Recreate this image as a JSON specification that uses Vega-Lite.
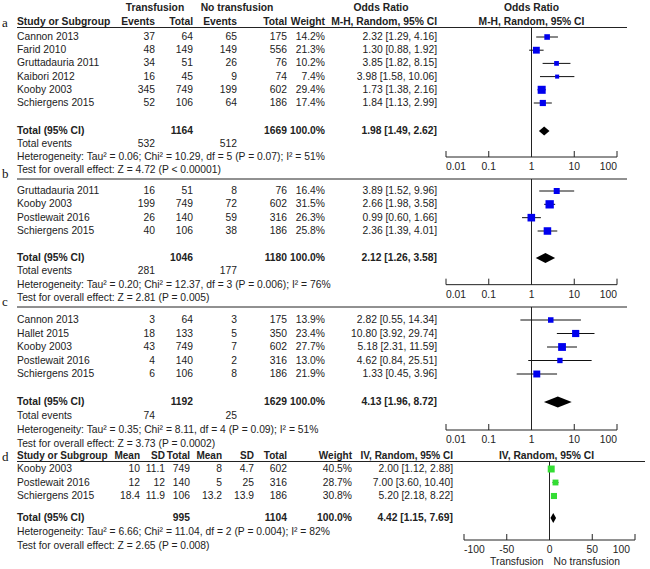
{
"$schema":"https://vega.github.io/schema/vega-lite/v6.json",
"width":650,"height":569,"padding":0,"autosize":{"type":"none"},
"background":"white",
"config":{"view":{"stroke":null},"axis":{"disable":true},"legend":{"disable":true},
 "text":{"font":"Liberation Sans","fontSize":10.3,"color":"#222","baseline":"middle"},
 "rule":{"color":"#222","strokeWidth":1}},
"datasets":{
 "frames":[{"panel":"a","label":"a","line":1.5,"line2":11},{"panel":"b","label":"b","line":12.5,"line2":20},{"panel":"c","label":"c","line":21.5,"line2":30},{"panel":"d","label":"d","line":32.5,"line2":38.5}],
 "headersABC":[{"line":0,"col":1,"text":"Transfusion"},{"line":0,"col":3,"text":"No transfusion"},{"line":0,"col":5.5,"text":"Odds Ratio"},{"line":1,"col":0,"text":"Study or Subgroup"},{"line":1,"col":1,"text":"Events"},{"line":1,"col":2,"text":"Total"},{"line":1,"col":3,"text":"Events"},{"line":1,"col":4,"text":"Total"},{"line":1,"col":5,"text":"Weight"},{"line":1,"col":6,"text":"M-H, Random, 95% CI"}],
 "studiesOR":[
  {"panel":"a","line":2,"study":"Cannon 2013","e1":37,"n1":64,"e2":65,"n2":175,"weight":0.142,"ci":"2.32 [1.29, 4.16]","or":2.32,"lo":1.29,"hi":4.16},
  {"panel":"a","line":3,"study":"Farid 2010","e1":48,"n1":149,"e2":149,"n2":556,"weight":0.213,"ci":"1.30 [0.88, 1.92]","or":1.30,"lo":0.88,"hi":1.92},
  {"panel":"a","line":4,"study":"Gruttadauria 2011","e1":34,"n1":51,"e2":26,"n2":76,"weight":0.102,"ci":"3.85 [1.82, 8.15]","or":3.85,"lo":1.82,"hi":8.15},
  {"panel":"a","line":5,"study":"Kaibori 2012","e1":16,"n1":45,"e2":9,"n2":74,"weight":0.074,"ci":"3.98 [1.58, 10.06]","or":3.98,"lo":1.58,"hi":10.06},
  {"panel":"a","line":6,"study":"Kooby 2003","e1":345,"n1":749,"e2":199,"n2":602,"weight":0.294,"ci":"1.73 [1.38, 2.16]","or":1.73,"lo":1.38,"hi":2.16},
  {"panel":"a","line":7,"study":"Schiergens 2015","e1":52,"n1":106,"e2":64,"n2":186,"weight":0.174,"ci":"1.84 [1.13, 2.99]","or":1.84,"lo":1.13,"hi":2.99},
  {"panel":"b","line":13,"study":"Gruttadauria 2011","e1":16,"n1":51,"e2":8,"n2":76,"weight":0.164,"ci":"3.89 [1.52, 9.96]","or":3.89,"lo":1.52,"hi":9.96},
  {"panel":"b","line":14,"study":"Kooby 2003","e1":199,"n1":749,"e2":72,"n2":602,"weight":0.315,"ci":"2.66 [1.98, 3.58]","or":2.66,"lo":1.98,"hi":3.58},
  {"panel":"b","line":15,"study":"Postlewait 2016","e1":26,"n1":140,"e2":59,"n2":316,"weight":0.263,"ci":"0.99 [0.60, 1.66]","or":0.99,"lo":0.60,"hi":1.66},
  {"panel":"b","line":16,"study":"Schiergens 2015","e1":40,"n1":106,"e2":38,"n2":186,"weight":0.258,"ci":"2.36 [1.39, 4.01]","or":2.36,"lo":1.39,"hi":4.01},
  {"panel":"c","line":22,"study":"Cannon 2013","e1":3,"n1":64,"e2":3,"n2":175,"weight":0.139,"ci":"2.82 [0.55, 14.34]","or":2.82,"lo":0.55,"hi":14.34},
  {"panel":"c","line":23,"study":"Hallet 2015","e1":18,"n1":133,"e2":5,"n2":350,"weight":0.234,"ci":"10.80 [3.92, 29.74]","or":10.80,"lo":3.92,"hi":29.74},
  {"panel":"c","line":24,"study":"Kooby 2003","e1":43,"n1":749,"e2":7,"n2":602,"weight":0.277,"ci":"5.18 [2.31, 11.59]","or":5.18,"lo":2.31,"hi":11.59},
  {"panel":"c","line":25,"study":"Postlewait 2016","e1":4,"n1":140,"e2":2,"n2":316,"weight":0.130,"ci":"4.62 [0.84, 25.51]","or":4.62,"lo":0.84,"hi":25.51},
  {"panel":"c","line":26,"study":"Schiergens 2015","e1":6,"n1":106,"e2":8,"n2":186,"weight":0.219,"ci":"1.33 [0.45, 3.96]","or":1.33,"lo":0.45,"hi":3.96}
 ],
 "totalsOR":[
  {"panel":"a","line":9,"label":"Total (95% CI)","n1":1164,"n2":1669,"weight":1,"ci":"1.98 [1.49, 2.62]","or":1.98,"lo":1.49,"hi":2.62},
  {"panel":"b","line":18,"label":"Total (95% CI)","n1":1046,"n2":1180,"weight":1,"ci":"2.12 [1.26, 3.58]","or":2.12,"lo":1.26,"hi":3.58},
  {"panel":"c","line":28,"label":"Total (95% CI)","n1":1192,"n2":1629,"weight":1,"ci":"4.13 [1.96, 8.72]","or":4.13,"lo":1.96,"hi":8.72}
 ],
 "events":[
  {"panel":"a","line":10,"label":"Total events","e1":532,"e2":512},
  {"panel":"b","line":19,"label":"Total events","e1":281,"e2":177},
  {"panel":"c","line":29,"label":"Total events","e1":74,"e2":25}
 ],
 "notes":[
  {"panel":"a","line":11,"text":"Heterogeneity: Tau² = 0.06; Chi² = 10.29, df = 5 (P = 0.07); I² = 51%"},
  {"panel":"a","line":12,"text":"Test for overall effect: Z = 4.72 (P < 0.00001)"},
  {"panel":"b","line":20,"text":"Heterogeneity: Tau² = 0.20; Chi² = 12.37, df = 3 (P = 0.006); I² = 76%"},
  {"panel":"b","line":21,"text":"Test for overall effect: Z = 2.81 (P = 0.005)"},
  {"panel":"c","line":30,"text":"Heterogeneity: Tau² = 0.35; Chi² = 8.11, df = 4 (P = 0.09); I² = 51%"},
  {"panel":"c","line":31,"text":"Test for overall effect: Z = 3.73 (P = 0.0002)"},
  {"panel":"d","line":38,"text":"Heterogeneity: Tau² = 6.66; Chi² = 11.04, df = 2 (P = 0.004); I² = 82%"},
  {"panel":"d","line":39,"text":"Test for overall effect: Z = 2.65 (P = 0.008)"}
 ],
 "headersD":[{"line":32,"col":0,"text":"Study or Subgroup"},{"line":32,"col":1,"text":"Mean"},{"line":32,"col":2,"text":"SD"},{"line":32,"col":3,"text":"Total"},{"line":32,"col":4,"text":"Mean"},{"line":32,"col":5,"text":"SD"},{"line":32,"col":6,"text":"Total"},{"line":32,"col":7,"text":"Weight"},{"line":32,"col":8,"text":"IV, Random, 95% CI"}],
 "studiesMD":[
  {"line":33,"study":"Kooby 2003","m1":10,"sd1":11.1,"n1":749,"m2":8,"sd2":4.7,"n2":602,"weight":0.405,"ci":"2.00 [1.12, 2.88]","md":2.00,"lo":1.12,"hi":2.88},
  {"line":34,"study":"Postlewait 2016","m1":12,"sd1":12,"n1":140,"m2":5,"sd2":25,"n2":316,"weight":0.287,"ci":"7.00 [3.60, 10.40]","md":7.00,"lo":3.60,"hi":10.40},
  {"line":35,"study":"Schiergens 2015","m1":18.4,"sd1":11.9,"n1":106,"m2":13.2,"sd2":13.9,"n2":186,"weight":0.308,"ci":"5.20 [2.18, 8.22]","md":5.20,"lo":2.18,"hi":8.22}
 ],
 "totalMD":[{"line":37,"label":"Total (95% CI)","n1":995,"n2":1104,"weight":1,"ci":"4.42 [1.15, 7.69]","md":4.42,"lo":1.15,"hi":7.69}],
 "forestHeadOR":[{"line":0,"text":"Odds Ratio"},{"line":1,"text":"M-H, Random, 95% CI"}],
 "forestHeadMD":[{"line":32,"text":"IV, Random, 95% CI"}],
 "logTicks":[
  {"panel":"a","line":11,"v":0.01},{"panel":"a","line":11,"v":0.1},{"panel":"a","line":11,"v":1},{"panel":"a","line":11,"v":10},{"panel":"a","line":11,"v":100},
  {"panel":"b","line":20,"v":0.01},{"panel":"b","line":20,"v":0.1},{"panel":"b","line":20,"v":1},{"panel":"b","line":20,"v":10},{"panel":"b","line":20,"v":100},
  {"panel":"c","line":30,"v":0.01},{"panel":"c","line":30,"v":0.1},{"panel":"c","line":30,"v":1},{"panel":"c","line":30,"v":10},{"panel":"c","line":30,"v":100}
 ],
 "mdTicks":[{"line":38.5,"v":-100},{"line":38.5,"v":-50},{"line":38.5,"v":0},{"line":38.5,"v":50},{"line":38.5,"v":100}],
 "favours":[{"line":38.5,"side":"left","text":"Transfusion"},{"line":38.5,"side":"right","text":"No transfusion"}]
},
"encoding":{"y":{"field":"line","type":"quantitative","axis":null,
 "scale":{"domain":[0,1,1.5,2,7,9,12,12.5,13,16,18,21,21.5,22,26,28,31,32,32.5,33,35,37,38,38.5,39],
          "range":[8,22,27.5,37,103,131,170,179,191,231,258,298,307,320,374,402,444,456,461.5,469,496,518,532,540,546],
          "nice":false,"zero":false}}},
"layer":[
 {"layer":[
  {"data":{"name":"frames"},"transform":[{"filter":"datum.panel !== 'd'"}],"mark":{"type":"rule"},
   "encoding":{"x":{"datum":0,"type":"quantitative","axis":null,"scale":{"domain":[0,1,2,3,4,5,6,7],"range":[17,155,193,237,287,325,437,627],"nice":false,"zero":false}},"x2":{"datum":7}}},
  {"data":{"name":"frames"},"mark":{"type":"text","align":"left","baseline":"alphabetic","dx":-15,"dy":-1,"font":"Liberation Serif","fontSize":13,"color":"#111"},
   "encoding":{"x":{"datum":0,"type":"quantitative","axis":null,"scale":{"domain":[0,1,2,3,4,5,6,7],"range":[17,155,193,237,287,325,437,627],"nice":false,"zero":false}},"text":{"field":"label"}}},
  {"data":{"name":"headersABC"},"transform":[{"filter":"datum.line === 0"}],"mark":{"type":"text","align":"center","fontWeight":"bold"},
   "encoding":{"x":{"field":"col","type":"quantitative","axis":null,"scale":{"domain":[0,1,2,3,4,5,6,7],"range":[17,155,193,237,287,325,437,627],"nice":false,"zero":false}},"text":{"field":"text"}}},
  {"data":{"name":"headersABC"},"transform":[{"filter":"datum.line === 1 && datum.col === 0"}],"mark":{"type":"text","align":"left","fontWeight":"bold"},
   "encoding":{"x":{"field":"col","type":"quantitative","axis":null,"scale":{"domain":[0,1,2,3,4,5,6,7],"range":[17,155,193,237,287,325,437,627],"nice":false,"zero":false}},"text":{"field":"text"}}},
  {"data":{"name":"headersABC"},"transform":[{"filter":"datum.line === 1 && datum.col > 0"}],"mark":{"type":"text","align":"right","fontWeight":"bold"},
   "encoding":{"x":{"field":"col","type":"quantitative","axis":null,"scale":{"domain":[0,1,2,3,4,5,6,7],"range":[17,155,193,237,287,325,437,627],"nice":false,"zero":false}},"text":{"field":"text"}}},
  {"data":{"name":"studiesOR"},"mark":{"type":"text","align":"left"},
   "encoding":{"x":{"datum":0,"type":"quantitative","axis":null,"scale":{"domain":[0,1,2,3,4,5,6,7],"range":[17,155,193,237,287,325,437,627],"nice":false,"zero":false}},"text":{"field":"study"}}},
  {"data":{"name":"studiesOR"},"mark":{"type":"text","align":"right"},
   "encoding":{"x":{"datum":1,"type":"quantitative","axis":null,"scale":{"domain":[0,1,2,3,4,5,6,7],"range":[17,155,193,237,287,325,437,627],"nice":false,"zero":false}},"text":{"field":"e1","type":"nominal"}}},
  {"data":{"name":"studiesOR"},"mark":{"type":"text","align":"right"},
   "encoding":{"x":{"datum":2,"type":"quantitative","axis":null,"scale":{"domain":[0,1,2,3,4,5,6,7],"range":[17,155,193,237,287,325,437,627],"nice":false,"zero":false}},"text":{"field":"n1","type":"nominal"}}},
  {"data":{"name":"studiesOR"},"mark":{"type":"text","align":"right"},
   "encoding":{"x":{"datum":3,"type":"quantitative","axis":null,"scale":{"domain":[0,1,2,3,4,5,6,7],"range":[17,155,193,237,287,325,437,627],"nice":false,"zero":false}},"text":{"field":"e2","type":"nominal"}}},
  {"data":{"name":"studiesOR"},"mark":{"type":"text","align":"right"},
   "encoding":{"x":{"datum":4,"type":"quantitative","axis":null,"scale":{"domain":[0,1,2,3,4,5,6,7],"range":[17,155,193,237,287,325,437,627],"nice":false,"zero":false}},"text":{"field":"n2","type":"nominal"}}},
  {"data":{"name":"studiesOR"},"mark":{"type":"text","align":"right"},
   "encoding":{"x":{"datum":5,"type":"quantitative","axis":null,"scale":{"domain":[0,1,2,3,4,5,6,7],"range":[17,155,193,237,287,325,437,627],"nice":false,"zero":false}},"text":{"field":"weight","type":"quantitative","format":".1%"}}},
  {"data":{"name":"studiesOR"},"mark":{"type":"text","align":"right"},
   "encoding":{"x":{"datum":6,"type":"quantitative","axis":null,"scale":{"domain":[0,1,2,3,4,5,6,7],"range":[17,155,193,237,287,325,437,627],"nice":false,"zero":false}},"text":{"field":"ci"}}},
  {"data":{"name":"totalsOR"},"mark":{"type":"text","align":"left","fontWeight":"bold"},
   "encoding":{"x":{"datum":0,"type":"quantitative","axis":null,"scale":{"domain":[0,1,2,3,4,5,6,7],"range":[17,155,193,237,287,325,437,627],"nice":false,"zero":false}},"text":{"field":"label"}}},
  {"data":{"name":"totalsOR"},"mark":{"type":"text","align":"right","fontWeight":"bold"},
   "encoding":{"x":{"datum":2,"type":"quantitative","axis":null,"scale":{"domain":[0,1,2,3,4,5,6,7],"range":[17,155,193,237,287,325,437,627],"nice":false,"zero":false}},"text":{"field":"n1","type":"nominal"}}},
  {"data":{"name":"totalsOR"},"mark":{"type":"text","align":"right","fontWeight":"bold"},
   "encoding":{"x":{"datum":4,"type":"quantitative","axis":null,"scale":{"domain":[0,1,2,3,4,5,6,7],"range":[17,155,193,237,287,325,437,627],"nice":false,"zero":false}},"text":{"field":"n2","type":"nominal"}}},
  {"data":{"name":"totalsOR"},"mark":{"type":"text","align":"right","fontWeight":"bold"},
   "encoding":{"x":{"datum":5,"type":"quantitative","axis":null,"scale":{"domain":[0,1,2,3,4,5,6,7],"range":[17,155,193,237,287,325,437,627],"nice":false,"zero":false}},"text":{"field":"weight","type":"quantitative","format":".1%"}}},
  {"data":{"name":"totalsOR"},"mark":{"type":"text","align":"right","fontWeight":"bold"},
   "encoding":{"x":{"datum":6,"type":"quantitative","axis":null,"scale":{"domain":[0,1,2,3,4,5,6,7],"range":[17,155,193,237,287,325,437,627],"nice":false,"zero":false}},"text":{"field":"ci"}}},
  {"data":{"name":"events"},"mark":{"type":"text","align":"left"},
   "encoding":{"x":{"datum":0,"type":"quantitative","axis":null,"scale":{"domain":[0,1,2,3,4,5,6,7],"range":[17,155,193,237,287,325,437,627],"nice":false,"zero":false}},"text":{"field":"label"}}},
  {"data":{"name":"events"},"mark":{"type":"text","align":"right"},
   "encoding":{"x":{"datum":1,"type":"quantitative","axis":null,"scale":{"domain":[0,1,2,3,4,5,6,7],"range":[17,155,193,237,287,325,437,627],"nice":false,"zero":false}},"text":{"field":"e1","type":"nominal"}}},
  {"data":{"name":"events"},"mark":{"type":"text","align":"right"},
   "encoding":{"x":{"datum":3,"type":"quantitative","axis":null,"scale":{"domain":[0,1,2,3,4,5,6,7],"range":[17,155,193,237,287,325,437,627],"nice":false,"zero":false}},"text":{"field":"e2","type":"nominal"}}},
  {"data":{"name":"notes"},"mark":{"type":"text","align":"left"},
   "encoding":{"x":{"datum":0,"type":"quantitative","axis":null,"scale":{"domain":[0,1,2,3,4,5,6,7],"range":[17,155,193,237,287,325,437,627],"nice":false,"zero":false}},"text":{"field":"text"}}}
 ]},
 {"layer":[
  {"data":{"name":"frames"},"transform":[{"filter":"datum.panel === 'd'"}],"mark":{"type":"rule"},
   "encoding":{"x":{"datum":0,"type":"quantitative","axis":null,"scale":{"domain":[0,1,2,3,4,5,6,7,8,9],"range":[17,140,165,190,222,254,287,352,453,645],"nice":false,"zero":false}},"x2":{"datum":9}}},
  {"data":{"name":"headersD"},"transform":[{"filter":"datum.col === 0"}],"mark":{"type":"text","align":"left","fontWeight":"bold","fontSize":10},
   "encoding":{"x":{"field":"col","type":"quantitative","axis":null,"scale":{"domain":[0,1,2,3,4,5,6,7,8,9],"range":[17,140,165,190,222,254,287,352,453,645],"nice":false,"zero":false}},"text":{"field":"text"}}},
  {"data":{"name":"headersD"},"transform":[{"filter":"datum.col > 0"}],"mark":{"type":"text","align":"right","fontWeight":"bold","fontSize":10},
   "encoding":{"x":{"field":"col","type":"quantitative","axis":null,"scale":{"domain":[0,1,2,3,4,5,6,7,8,9],"range":[17,140,165,190,222,254,287,352,453,645],"nice":false,"zero":false}},"text":{"field":"text"}}},
  {"data":{"name":"studiesMD"},"mark":{"type":"text","align":"left"},
   "encoding":{"x":{"datum":0,"type":"quantitative","axis":null,"scale":{"domain":[0,1,2,3,4,5,6,7,8,9],"range":[17,140,165,190,222,254,287,352,453,645],"nice":false,"zero":false}},"text":{"field":"study"}}},
  {"data":{"name":"studiesMD"},"mark":{"type":"text","align":"right"},
   "encoding":{"x":{"datum":1,"type":"quantitative","axis":null,"scale":{"domain":[0,1,2,3,4,5,6,7,8,9],"range":[17,140,165,190,222,254,287,352,453,645],"nice":false,"zero":false}},"text":{"field":"m1","type":"nominal"}}},
  {"data":{"name":"studiesMD"},"mark":{"type":"text","align":"right"},
   "encoding":{"x":{"datum":2,"type":"quantitative","axis":null,"scale":{"domain":[0,1,2,3,4,5,6,7,8,9],"range":[17,140,165,190,222,254,287,352,453,645],"nice":false,"zero":false}},"text":{"field":"sd1","type":"nominal"}}},
  {"data":{"name":"studiesMD"},"mark":{"type":"text","align":"right"},
   "encoding":{"x":{"datum":3,"type":"quantitative","axis":null,"scale":{"domain":[0,1,2,3,4,5,6,7,8,9],"range":[17,140,165,190,222,254,287,352,453,645],"nice":false,"zero":false}},"text":{"field":"n1","type":"nominal"}}},
  {"data":{"name":"studiesMD"},"mark":{"type":"text","align":"right"},
   "encoding":{"x":{"datum":4,"type":"quantitative","axis":null,"scale":{"domain":[0,1,2,3,4,5,6,7,8,9],"range":[17,140,165,190,222,254,287,352,453,645],"nice":false,"zero":false}},"text":{"field":"m2","type":"nominal"}}},
  {"data":{"name":"studiesMD"},"mark":{"type":"text","align":"right"},
   "encoding":{"x":{"datum":5,"type":"quantitative","axis":null,"scale":{"domain":[0,1,2,3,4,5,6,7,8,9],"range":[17,140,165,190,222,254,287,352,453,645],"nice":false,"zero":false}},"text":{"field":"sd2","type":"nominal"}}},
  {"data":{"name":"studiesMD"},"mark":{"type":"text","align":"right"},
   "encoding":{"x":{"datum":6,"type":"quantitative","axis":null,"scale":{"domain":[0,1,2,3,4,5,6,7,8,9],"range":[17,140,165,190,222,254,287,352,453,645],"nice":false,"zero":false}},"text":{"field":"n2","type":"nominal"}}},
  {"data":{"name":"studiesMD"},"mark":{"type":"text","align":"right"},
   "encoding":{"x":{"datum":7,"type":"quantitative","axis":null,"scale":{"domain":[0,1,2,3,4,5,6,7,8,9],"range":[17,140,165,190,222,254,287,352,453,645],"nice":false,"zero":false}},"text":{"field":"weight","type":"quantitative","format":".1%"}}},
  {"data":{"name":"studiesMD"},"mark":{"type":"text","align":"right"},
   "encoding":{"x":{"datum":8,"type":"quantitative","axis":null,"scale":{"domain":[0,1,2,3,4,5,6,7,8,9],"range":[17,140,165,190,222,254,287,352,453,645],"nice":false,"zero":false}},"text":{"field":"ci"}}},
  {"data":{"name":"totalMD"},"mark":{"type":"text","align":"left","fontWeight":"bold"},
   "encoding":{"x":{"datum":0,"type":"quantitative","axis":null,"scale":{"domain":[0,1,2,3,4,5,6,7,8,9],"range":[17,140,165,190,222,254,287,352,453,645],"nice":false,"zero":false}},"text":{"field":"label"}}},
  {"data":{"name":"totalMD"},"mark":{"type":"text","align":"right","fontWeight":"bold"},
   "encoding":{"x":{"datum":3,"type":"quantitative","axis":null,"scale":{"domain":[0,1,2,3,4,5,6,7,8,9],"range":[17,140,165,190,222,254,287,352,453,645],"nice":false,"zero":false}},"text":{"field":"n1","type":"nominal"}}},
  {"data":{"name":"totalMD"},"mark":{"type":"text","align":"right","fontWeight":"bold"},
   "encoding":{"x":{"datum":6,"type":"quantitative","axis":null,"scale":{"domain":[0,1,2,3,4,5,6,7,8,9],"range":[17,140,165,190,222,254,287,352,453,645],"nice":false,"zero":false}},"text":{"field":"n2","type":"nominal"}}},
  {"data":{"name":"totalMD"},"mark":{"type":"text","align":"right","fontWeight":"bold"},
   "encoding":{"x":{"datum":7,"type":"quantitative","axis":null,"scale":{"domain":[0,1,2,3,4,5,6,7,8,9],"range":[17,140,165,190,222,254,287,352,453,645],"nice":false,"zero":false}},"text":{"field":"weight","type":"quantitative","format":".1%"}}},
  {"data":{"name":"totalMD"},"mark":{"type":"text","align":"right","fontWeight":"bold"},
   "encoding":{"x":{"datum":8,"type":"quantitative","axis":null,"scale":{"domain":[0,1,2,3,4,5,6,7,8,9],"range":[17,140,165,190,222,254,287,352,453,645],"nice":false,"zero":false}},"text":{"field":"ci"}}}
 ]},
 {"layer":[
  {"data":{"name":"forestHeadOR"},"mark":{"type":"text","align":"center","fontWeight":"bold"},
   "encoding":{"x":{"datum":1,"type":"quantitative","axis":null,"scale":{"type":"log","domain":[0.01,100],"range":[446,617],"nice":false}},"text":{"field":"text"}}},
  {"data":{"name":"frames"},"transform":[{"filter":"datum.panel !== 'd'"}],"mark":{"type":"rule"},
   "encoding":{"x":{"datum":1,"type":"quantitative","axis":null,"scale":{"type":"log","domain":[0.01,100],"range":[446,617],"nice":false}},"y2":{"field":"line2"}}},
  {"data":{"name":"logTicks"},"mark":{"type":"rule"},
   "encoding":{"x":{"aggregate":"min","field":"v","type":"quantitative","axis":null,"scale":{"type":"log","domain":[0.01,100],"range":[446,617],"nice":false}},"x2":{"aggregate":"max","field":"v"}}},
  {"data":{"name":"logTicks"},"mark":{"type":"rule","y2Offset":-6},
   "encoding":{"x":{"field":"v","type":"quantitative","axis":null,"scale":{"type":"log","domain":[0.01,100],"range":[446,617],"nice":false}},"y2":{"field":"line"}}},
  {"data":{"name":"logTicks"},"transform":[{"filter":"datum.v > 0.01 && datum.v < 100"}],"mark":{"type":"text","align":"center","dy":10},
   "encoding":{"x":{"field":"v","type":"quantitative","axis":null,"scale":{"type":"log","domain":[0.01,100],"range":[446,617],"nice":false}},"text":{"field":"v","type":"nominal"}}},
  {"data":{"name":"logTicks"},"transform":[{"filter":"datum.v <= 0.01"}],"mark":{"type":"text","align":"left","dy":10},
   "encoding":{"x":{"field":"v","type":"quantitative","axis":null,"scale":{"type":"log","domain":[0.01,100],"range":[446,617],"nice":false}},"text":{"field":"v","type":"nominal"}}},
  {"data":{"name":"logTicks"},"transform":[{"filter":"datum.v >= 100"}],"mark":{"type":"text","align":"right","dy":10},
   "encoding":{"x":{"field":"v","type":"quantitative","axis":null,"scale":{"type":"log","domain":[0.01,100],"range":[446,617],"nice":false}},"text":{"field":"v","type":"nominal"}}},
  {"data":{"name":"studiesOR"},"mark":{"type":"rule","color":"#111"},
   "encoding":{"x":{"field":"lo","type":"quantitative","axis":null,"scale":{"type":"log","domain":[0.01,100],"range":[446,617],"nice":false}},"x2":{"field":"hi"}}},
  {"data":{"name":"studiesOR"},"mark":{"type":"square","color":"#0000ee","opacity":1},
   "encoding":{"x":{"field":"or","type":"quantitative","axis":null,"scale":{"type":"log","domain":[0.01,100],"range":[446,617],"nice":false}},
    "size":{"field":"weight","type":"quantitative","legend":null,"scale":{"domain":[0,1],"range":[0,220]}}}},
  {"data":{"name":"totalsOR"},"mark":{"type":"point","filled":true,"color":"#000","opacity":1,"size":4,"strokeWidth":0},
   "encoding":{"x":{"field":"or","type":"quantitative","axis":null,"scale":{"type":"log","domain":[0.01,100],"range":[446,617],"nice":false}},
    "shape":{"field":"panel","type":"nominal","legend":null,"scale":{"domain":["a","b","c"],"range":["M-5.3,0L0,-4.5L5.3,0L0,4.5Z","M-9.7,0L0,-5L9.7,0L0,5Z","M-13.9,0L0,-5.5L13.9,0L0,5.5Z"]}}}}
 ]},
 {"layer":[
  {"data":{"name":"forestHeadMD"},"mark":{"type":"text","align":"center","fontWeight":"bold","dx":-3},
   "encoding":{"x":{"datum":0,"type":"quantitative","axis":null,"scale":{"domain":[-100,100],"range":[464,635],"nice":false,"zero":false}},"text":{"field":"text"}}},
  {"data":{"name":"frames"},"transform":[{"filter":"datum.panel === 'd'"}],"mark":{"type":"rule"},
   "encoding":{"x":{"datum":0,"type":"quantitative","axis":null,"scale":{"domain":[-100,100],"range":[464,635],"nice":false,"zero":false}},"y2":{"field":"line2"}}},
  {"data":{"name":"mdTicks"},"mark":{"type":"rule"},
   "encoding":{"x":{"aggregate":"min","field":"v","type":"quantitative","axis":null,"scale":{"domain":[-100,100],"range":[464,635],"nice":false,"zero":false}},"x2":{"aggregate":"max","field":"v"}}},
  {"data":{"name":"mdTicks"},"mark":{"type":"rule","y2Offset":-6},
   "encoding":{"x":{"field":"v","type":"quantitative","axis":null,"scale":{"domain":[-100,100],"range":[464,635],"nice":false,"zero":false}},"y2":{"field":"line"}}},
  {"data":{"name":"mdTicks"},"transform":[{"filter":"datum.v > -100 && datum.v < 100"}],"mark":{"type":"text","align":"center","dy":10},
   "encoding":{"x":{"field":"v","type":"quantitative","axis":null,"scale":{"domain":[-100,100],"range":[464,635],"nice":false,"zero":false}},"text":{"field":"v","type":"nominal"}}},
  {"data":{"name":"mdTicks"},"transform":[{"filter":"datum.v <= -100"}],"mark":{"type":"text","align":"left","dy":10},
   "encoding":{"x":{"field":"v","type":"quantitative","axis":null,"scale":{"domain":[-100,100],"range":[464,635],"nice":false,"zero":false}},"text":{"field":"v","type":"nominal"}}},
  {"data":{"name":"mdTicks"},"transform":[{"filter":"datum.v >= 100"}],"mark":{"type":"text","align":"right","dy":10,"dx":-5},
   "encoding":{"x":{"field":"v","type":"quantitative","axis":null,"scale":{"domain":[-100,100],"range":[464,635],"nice":false,"zero":false}},"text":{"field":"v","type":"nominal"}}},
  {"data":{"name":"favours"},"transform":[{"filter":"datum.side === 'left'"}],"mark":{"type":"text","align":"right","dy":22,"dx":-6},
   "encoding":{"x":{"datum":0,"type":"quantitative","axis":null,"scale":{"domain":[-100,100],"range":[464,635],"nice":false,"zero":false}},"text":{"field":"text"}}},
  {"data":{"name":"favours"},"transform":[{"filter":"datum.side === 'right'"}],"mark":{"type":"text","align":"left","dy":22,"dx":4},
   "encoding":{"x":{"datum":0,"type":"quantitative","axis":null,"scale":{"domain":[-100,100],"range":[464,635],"nice":false,"zero":false}},"text":{"field":"text"}}},
  {"data":{"name":"studiesMD"},"mark":{"type":"rule","color":"#111"},
   "encoding":{"x":{"field":"lo","type":"quantitative","axis":null,"scale":{"domain":[-100,100],"range":[464,635],"nice":false,"zero":false}},"x2":{"field":"hi"}}},
  {"data":{"name":"studiesMD"},"mark":{"type":"square","color":"#33dd33","opacity":1},
   "encoding":{"x":{"field":"md","type":"quantitative","axis":null,"scale":{"domain":[-100,100],"range":[464,635],"nice":false,"zero":false}},
    "size":{"field":"weight","type":"quantitative","legend":null,"scale":{"domain":[0,1],"range":[0,120]}}}},
  {"data":{"name":"totalMD"},"mark":{"type":"point","filled":true,"color":"#000","opacity":1,"size":4,"strokeWidth":0,"shape":"M-2.8,0L0,-5L2.8,0L0,5Z"},
   "encoding":{"x":{"field":"md","type":"quantitative","axis":null,"scale":{"domain":[-100,100],"range":[464,635],"nice":false,"zero":false}}}}
 ]}
],
"resolve":{"scale":{"x":"independent","size":"independent","shape":"independent"}}
}
